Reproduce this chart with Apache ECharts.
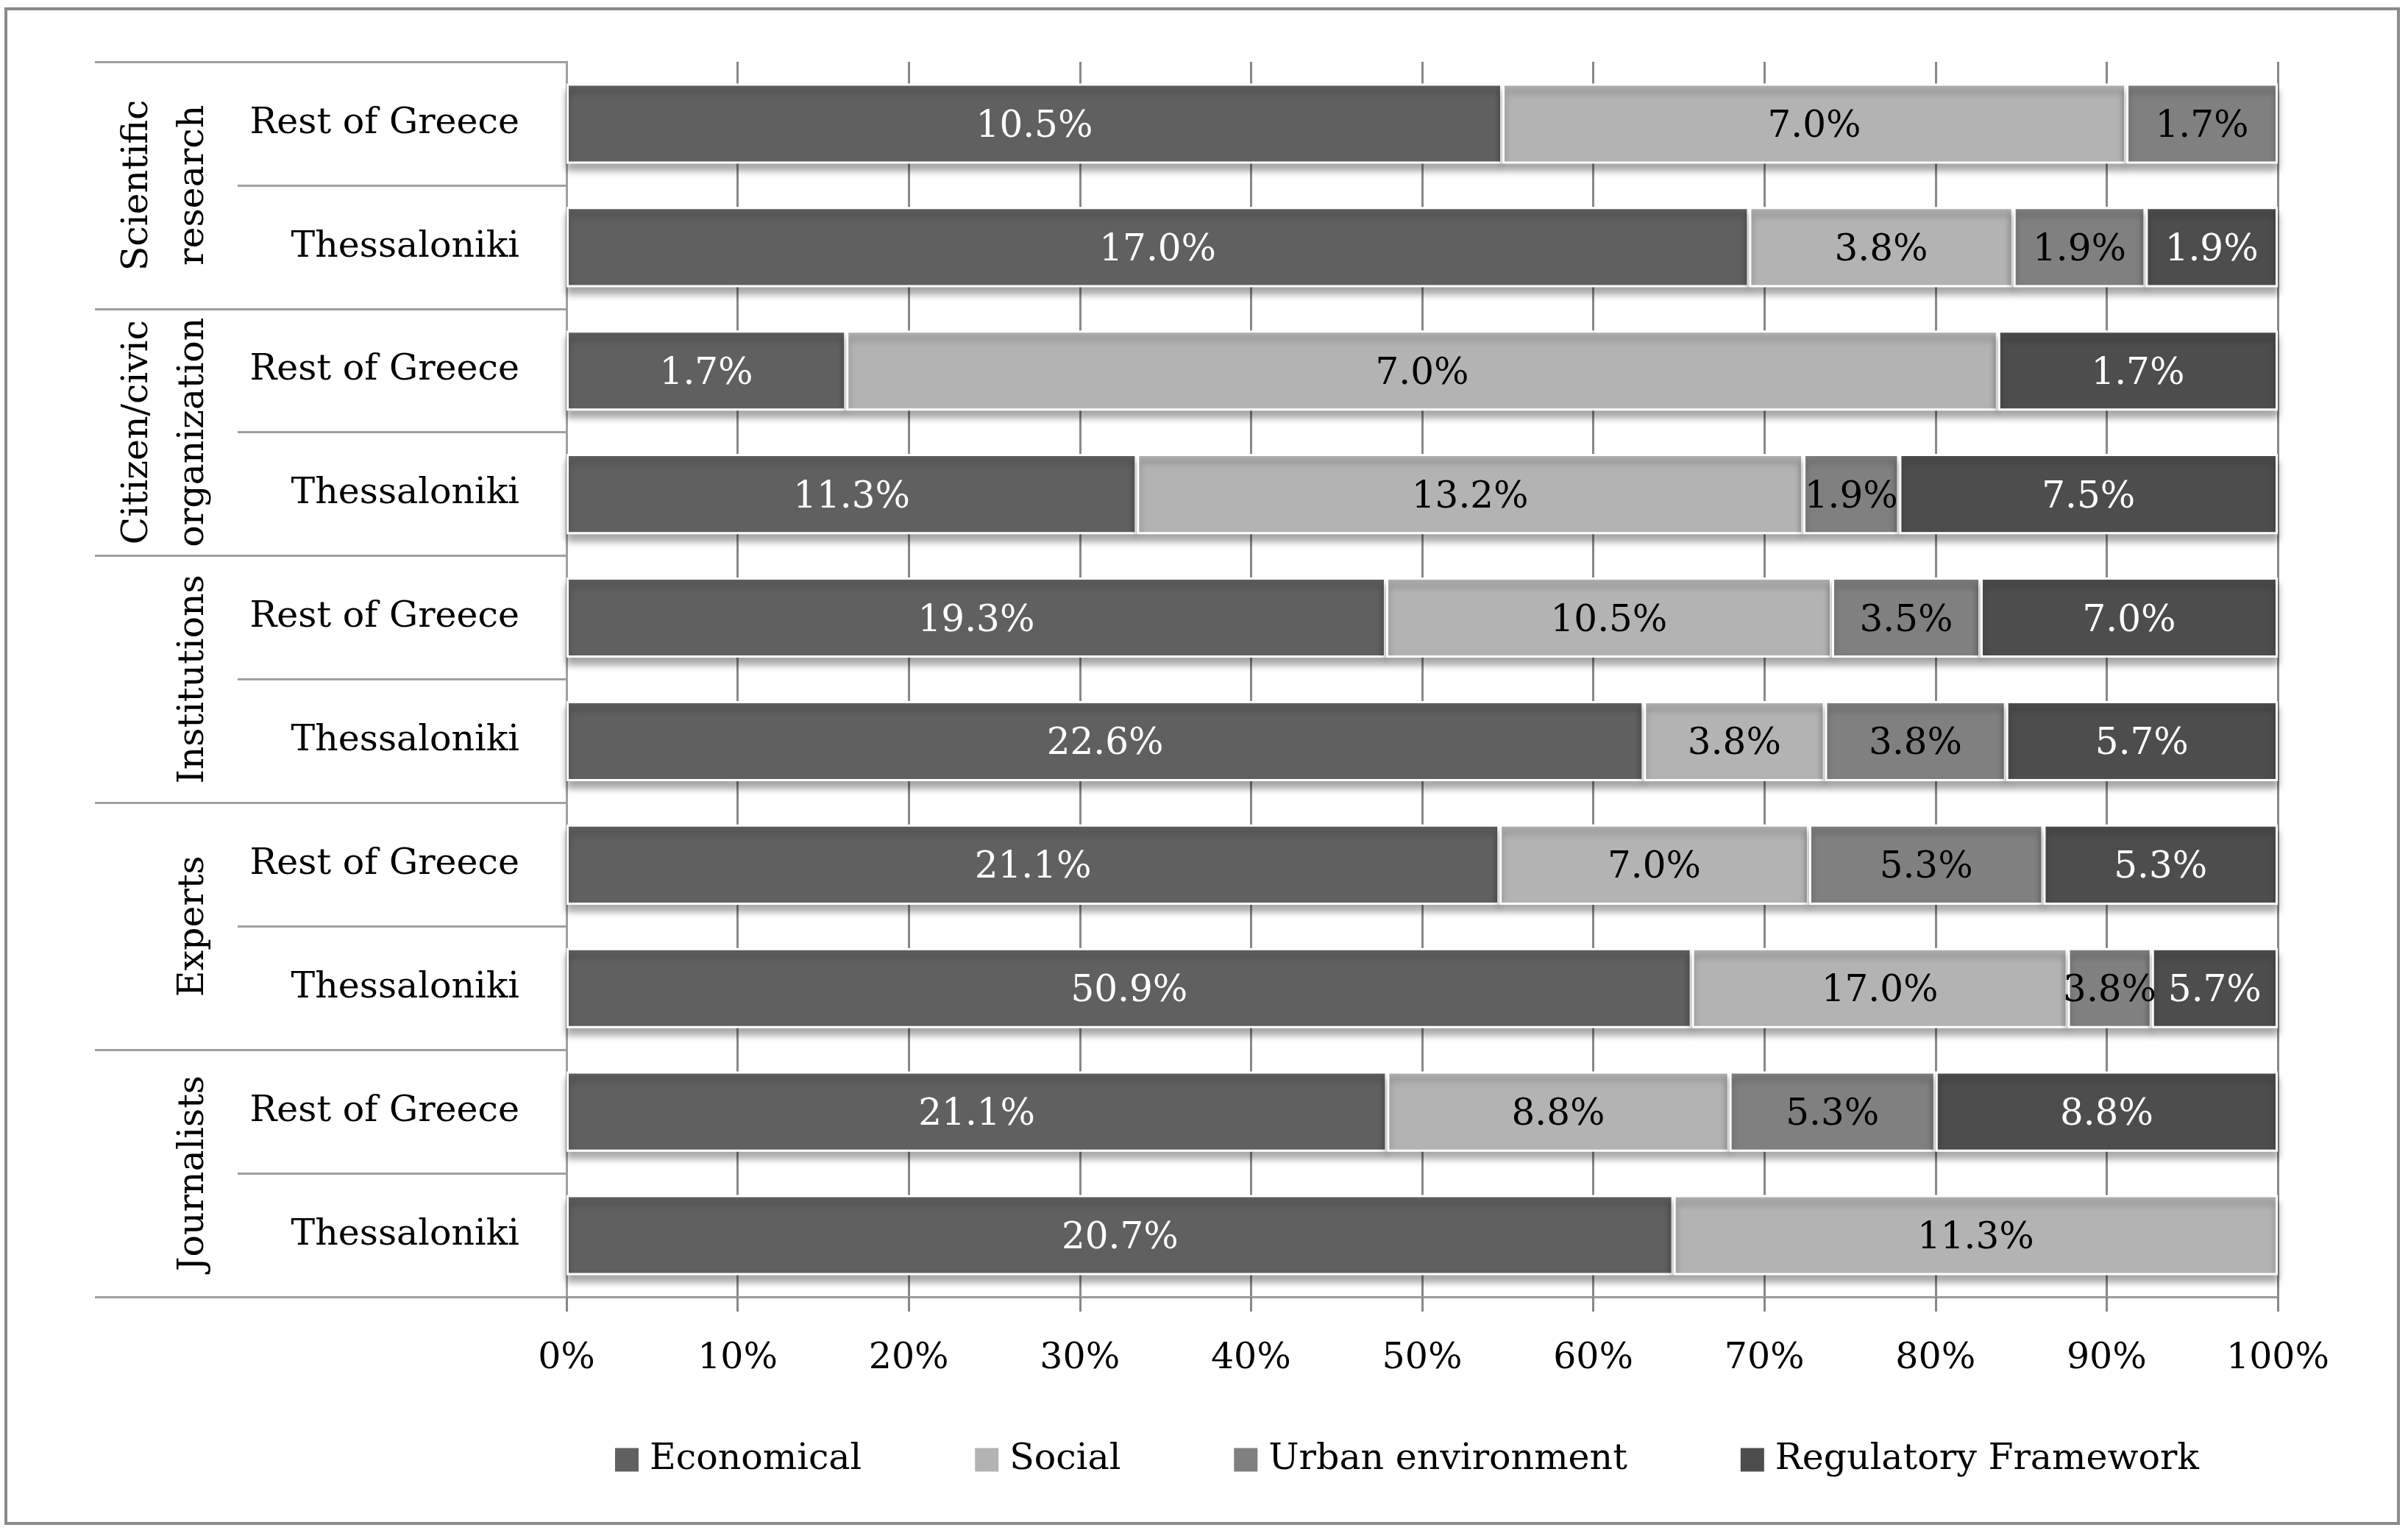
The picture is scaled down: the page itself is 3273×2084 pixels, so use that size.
<!DOCTYPE html>
<html>
<head>
<meta charset="utf-8">
<script src="https://cdn.jsdelivr.net/npm/echarts@6/dist/echarts.min.js"></script>
<style>
html,body{margin:0;padding:0;background:#fff;}
#chart{width:3273px;height:2084px;}
</style>
</head>
<body>
<div id="chart"></div>
<script>
// ---- data (rows listed top to bottom) ----
const groups = ['Scientific\nresearch', 'Citizen/civic\norganization', 'Institutions', 'Experts', 'Journalists'];
const places = ['Rest of Greece', 'Thessaloniki'];
const seriesNames = ['Economical', 'Social', 'Urban environment', 'Regulatory Framework'];
const economical = [10.5, 17.0, 1.7, 11.3, 19.3, 22.6, 21.1, 50.9, 21.1, 20.7];
const social     = [7.0, 3.8, 7.0, 13.2, 10.5, 3.8, 7.0, 17.0, 8.8, 11.3];
const urban      = [1.7, 1.9, 0, 1.9, 3.5, 3.8, 5.3, 3.8, 5.3, 0];
const regulatory = [0, 1.9, 1.7, 7.5, 7.0, 5.7, 5.3, 5.7, 8.8, 0];
const xTicks = [0, 10, 20, 30, 40, 50, 60, 70, 80, 90, 100];

// ---- styling ----
const FONT = 'DejaVu Serif';
const colors = ['#606060', '#b3b3b3', '#808080', '#4d4d4d'];
const labelColors = ['#ffffff', '#000000', '#000000', '#ffffff'];

const rowKeys = [];
groups.forEach(g => places.forEach(p => rowKeys.push(g + '|' + p)));

const raw = [economical, social, urban, regulatory];
const totals = rowKeys.map((_, i) => raw.reduce((s, arr) => s + arr[i], 0));

const series = raw.map((arr, si) => ({
  name: seriesNames[si],
  type: 'bar',
  stack: 'total',
  yAxisIndex: 0,
  barCategoryGap: '35%',
  data: arr.map((v, i) => v === 0 ? null : { value: v / totals[i] * 100, raw: v }),
  itemStyle: {
    color: colors[si],
    borderColor: '#ffffff',
    borderWidth: 3,
    shadowColor: 'rgba(0,0,0,0.35)',
    shadowBlur: 10,
    shadowOffsetY: 9
  },
  label: {
    show: true,
    position: 'inside',
    offset: [0, 5],
    fontFamily: FONT,
    fontSize: 50,
    color: labelColors[si],
    formatter: p => (p.data && p.data.raw ? p.data.raw.toFixed(1) + '%' : '')
  },
  emphasis: { disabled: true }
}));

const chart = echarts.init(document.getElementById('chart'), null, { renderer: 'canvas' });
chart.setOption({
  animation: false,
  backgroundColor: '#ffffff',
  textStyle: { fontFamily: FONT },
  graphic: [{
    type: 'rect',
    silent: true,
    shape: { x: 8, y: 12, width: 3252, height: 2059 },
    style: { fill: 'none', stroke: '#8a8a8a', lineWidth: 4 }
  }],
  grid: { left: 770, right: 177, top: 84, bottom: 321, containLabel: false },
  legend: {
    data: seriesNames,
    left: 829,
    top: 1955,
    icon: 'rect',
    itemWidth: 34,
    itemHeight: 34,
    itemGap: 152,
    textStyle: { fontFamily: FONT, fontSize: 49, color: '#000', padding: [0, 0, 0, 9] },
    selectedMode: false
  },
  xAxis: {
    type: 'value',
    min: xTicks[0],
    max: xTicks[xTicks.length - 1],
    interval: 10,
    axisLine: { show: true, lineStyle: { color: '#9a9a9a', width: 3 } },
    axisTick: { show: true, length: 20, lineStyle: { color: '#888888', width: 3 } },
    axisLabel: { fontFamily: FONT, fontSize: 49, color: '#000', margin: 60, formatter: '{value}%' },
    splitLine: { show: true, lineStyle: { color: '#888888', width: 3 } }
  },
  yAxis: [{
    type: 'category',
    data: rowKeys,
    inverse: true,
    position: 'left',
    axisLine: { show: true, lineStyle: { color: '#a0a0a0', width: 3 } },
    axisTick: { show: true, interval: 0, length: 447, lineStyle: { color: '#a0a0a0', width: 3 } },
    axisLabel: {
      interval: 0, fontFamily: FONT, fontSize: 49, color: '#000', margin: 64,
      padding: [8, 0, 0, 0],
      formatter: v => v.split('|')[1]
    },
    splitLine: { show: false }
  }, {
    type: 'category',
    data: groups,
    inverse: true,
    position: 'left',
    axisLine: { show: false },
    axisTick: { show: true, interval: 0, length: 641, lineStyle: { color: '#a0a0a0', width: 3 } },
    axisLabel: {
      interval: 0, rotate: 90, fontFamily: FONT, fontSize: 49, lineHeight: 76,
      color: '#000', margin: 469
    },
    splitLine: { show: false }
  }],
  series: series
});
</script>
</body>
</html>
